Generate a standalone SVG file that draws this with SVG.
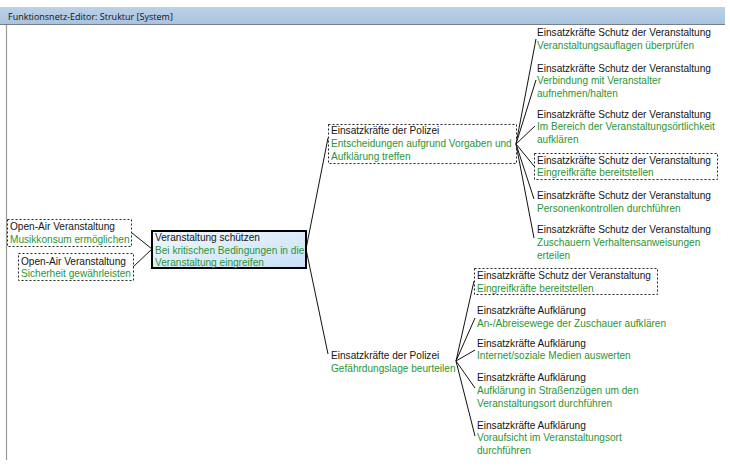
<svg xmlns="http://www.w3.org/2000/svg" width="730" height="468" viewBox="0 0 730 468">
<defs>
<linearGradient id="tb" x1="0" y1="0" x2="0" y2="1"><stop offset="0" stop-color="#bcd1e8"/><stop offset="1" stop-color="#a9c3df"/></linearGradient>
<linearGradient id="cb" x1="0" y1="0" x2="1" y2="1"><stop offset="0" stop-color="#f4f9fe"/><stop offset="1" stop-color="#c6dff7"/></linearGradient>
</defs>
<style>
text{font-family:"Liberation Sans",Arial,sans-serif;font-size:10.1px;fill:#151515}
.g{fill:#2a9534}
.dot{fill:none;stroke:#222;stroke-width:1;stroke-dasharray:2,2}
.c{stroke:#111;stroke-width:1;fill:none}
</style>
<rect x="0" y="0" width="730" height="468" fill="#fff"/>
<rect x="0" y="7" width="725" height="17" fill="url(#tb)"/>
<line x1="0" y1="24.5" x2="725" y2="24.5" stroke="#7a7f86" stroke-width="1"/>
<line x1="6.5" y1="25" x2="6.5" y2="460" stroke="#9a9a9a" stroke-width="1.2"/>
<text x="8" y="19.5" style="font-family:'Open Sans','Noto Sans',sans-serif;font-size:9px;fill:#111">Funktionsnetz-Editor: Struktur [System]</text>

<g id="connectors">
<line class="c" x1="132" y1="233" x2="152" y2="249"/>
<line class="c" x1="133" y1="267" x2="152" y2="249"/>
<line class="c" x1="306" y1="249" x2="328" y2="138"/>
<line class="c" x1="306" y1="249" x2="328" y2="354"/>
<line class="c" x1="516" y1="144" x2="536" y2="39"/>
<line class="c" x1="516" y1="144" x2="536" y2="80"/>
<line class="c" x1="516" y1="144" x2="535" y2="126"/>
<line class="c" x1="516" y1="144" x2="534" y2="166"/>
<line class="c" x1="516" y1="144" x2="534" y2="199"/>
<line class="c" x1="516" y1="144" x2="534" y2="238"/>
<line class="c" x1="456" y1="361" x2="474" y2="281"/>
<line class="c" x1="456" y1="361" x2="475" y2="318"/>
<line class="c" x1="456" y1="361" x2="475" y2="350"/>
<line class="c" x1="456" y1="361" x2="475" y2="388"/>
<line class="c" x1="456" y1="361" x2="475" y2="436"/>
</g>

<g id="n-openair1">
<rect class="dot" x="7.5" y="219.5" width="124" height="27"/>
<text x="10" y="230">Open-Air Veranstaltung</text>
<text class="g" x="10" y="243">Musikkonsum ermöglichen</text>
</g>
<g id="n-openair2">
<rect class="dot" x="18.5" y="253.5" width="115" height="27"/>
<text x="21" y="265">Open-Air Veranstaltung</text>
<text class="g" x="21" y="277">Sicherheit gewährleisten</text>
</g>
<g id="n-central">
<rect x="152" y="231" width="154" height="37" fill="url(#cb)" stroke="#000" stroke-width="2"/>
<text x="155" y="241">Veranstaltung schützen</text>
<text class="g" x="155" y="254">Bei kritischen Bedingungen in die</text>
<text class="g" x="155" y="266">Veranstaltung eingreifen</text>
</g>
<g id="n-polizei1">
<rect class="dot" x="328.5" y="124.5" width="188" height="39"/>
<text x="331" y="134">Einsatzkräfte der Polizei</text>
<text class="g" x="331" y="147">Entscheidungen aufgrund Vorgaben und</text>
<text class="g" x="331" y="160">Aufklärung treffen</text>
</g>
<g id="n-polizei2">
<text x="331" y="359">Einsatzkräfte der Polizei</text>
<text class="g" x="331" y="372">Gefährdungslage beurteilen</text>
</g>

<g id="n-p1c1">
<text x="537" y="36">Einsatzkräfte Schutz der Veranstaltung</text>
<text class="g" x="537" y="49">Veranstaltungsauflagen überprüfen</text>
</g>
<g id="n-p1c2">
<text x="537" y="72">Einsatzkräfte Schutz der Veranstaltung</text>
<text class="g" x="537" y="84">Verbindung mit Veranstalter</text>
<text class="g" x="537" y="97">aufnehmen/halten</text>
</g>
<g id="n-p1c3">
<text x="537" y="118">Einsatzkräfte Schutz der Veranstaltung</text>
<text class="g" x="537" y="130">Im Bereich der Veranstaltungsörtlichkeit</text>
<text class="g" x="537" y="143">aufklären</text>
</g>
<g id="n-p1c4">
<rect class="dot" x="534.5" y="153.5" width="183" height="26"/>
<text x="537" y="164">Einsatzkräfte Schutz der Veranstaltung</text>
<text class="g" x="537" y="176">Eingreifkräfte bereitstellen</text>
</g>
<g id="n-p1c5">
<text x="537" y="199">Einsatzkräfte Schutz der Veranstaltung</text>
<text class="g" x="537" y="212">Personenkontrollen durchführen</text>
</g>
<g id="n-p1c6">
<text x="537" y="233">Einsatzkräfte Schutz der Veranstaltung</text>
<text class="g" x="537" y="246">Zuschauern Verhaltensanweisungen</text>
<text class="g" x="537" y="259">erteilen</text>
</g>

<g id="n-p2c1">
<rect class="dot" x="474.5" y="268.5" width="183" height="26"/>
<text x="477" y="279">Einsatzkräfte Schutz der Veranstaltung</text>
<text class="g" x="477" y="292">Eingreifkräfte bereitstellen</text>
</g>
<g id="n-p2c2">
<text x="477" y="314">Einsatzkräfte Aufklärung</text>
<text class="g" x="477" y="327">An-/Abreisewege der Zuschauer aufklären</text>
</g>
<g id="n-p2c3">
<text x="477" y="347">Einsatzkräfte Aufklärung</text>
<text class="g" x="477" y="359">Internet/soziale Medien auswerten</text>
</g>
<g id="n-p2c4">
<text x="477" y="381">Einsatzkräfte Aufklärung</text>
<text class="g" x="477" y="394">Aufklärung in Straßenzügen um den</text>
<text class="g" x="477" y="407">Veranstaltungsort durchführen</text>
</g>
<g id="n-p2c5">
<text x="477" y="429">Einsatzkräfte Aufklärung</text>
<text class="g" x="477" y="441">Voraufsicht im Veranstaltungsort</text>
<text class="g" x="477" y="454">durchführen</text>
</g>
</svg>
